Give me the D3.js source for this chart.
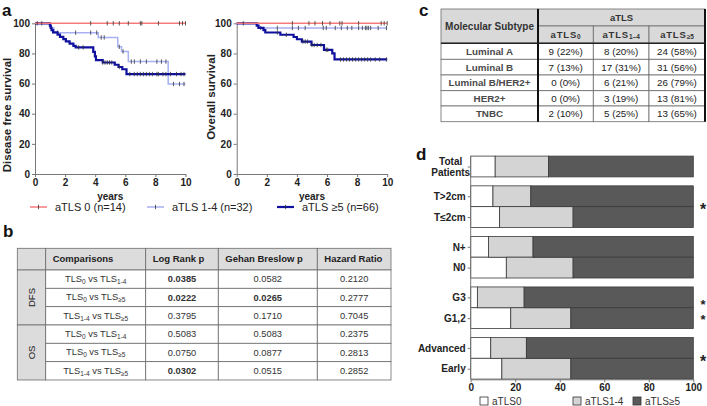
<!DOCTYPE html>
<html><head><meta charset="utf-8">
<script src="https://cdn.jsdelivr.net/npm/d3@7"></script>
<style>body{margin:0;background:#fff}svg{display:block;font-family:"Liberation Sans",Arial,sans-serif}</style>
</head><body><svg id="chart" width="707" height="406"></svg>
<script>
// ---------- Panel a data ----------
const yearTicks = [0, 2, 4, 6, 8, 10];
const survTicks = [0, 20, 40, 60, 80, 100];
const seriesNames = ["aTLS 0 (n=14)", "aTLS 1-4 (n=32)", "aTLS \u22655 (n=66)"];
const seriesColors = ["#f57b7b", "#a7b0f2", "#10109e"];

const dfs0Steps = [[0,100],[10,100]];
const dfs0Censor = [0.15,0.45,3.7,4.8,5.2,5.6,6.2,7.0,7.1,8.2,9.6,9.8,10];
const dfs14Steps = [[0,100],[1.0,96.9],[1.26,93.8],[4.2,90.6],[5.5,84.4],[5.75,81.3],[6.2,74.6],[8.85,59.7],[10,59.7]];
const dfs14Censor = [1.5,2.7,3.7,4.1,4.4,4.6,5.6,5.85,6.4,6.6,7.0,7.4,8.1,8.4,8.7,9.2,9.6,9.9];
const dfs5Steps = [[0,100],[0.99,98.5],[1.05,97],[1.1,95.5],[1.2,94],[1.5,92.5],[1.66,91],[1.88,89.5],[2.05,88],[2.3,86.5],[2.55,85],[2.7,84],[3.87,81],[3.98,78],[4.05,75.5],[4.5,74],[5.3,72.5],[5.55,71],[5.8,69.5],[6.08,66.3],[10,66.3]];
const dfs5Censor = [2.9,3.2,4.5,4.65,4.8,4.95,5.1,5.6,6.3,6.6,6.8,7.0,7.2,7.4,7.6,7.8,8.1,8.2,8.5,8.7,9.0,9.4,9.7,9.9];

const os0Steps = [[0,100],[10,100]];
const os0Censor = [0.44,3.7,4.8,5.2,5.7,6.2,6.85,7.0,8.1,9.6,9.8,10];
const os14Steps = [[0,100],[1.4,96.9],[10,96.9]];
const os14Censor = [1.6,2.7,3.7,4.1,4.55,5.75,5.95,6.55,6.95,7.35,7.65,8.1,8.35,8.55,8.65,8.75,8.9,9.4,9.95];
const os5Steps = [[0,100],[1.33,98.5],[1.45,97],[1.78,95.5],[1.9,93.9],[2.9,92.4],[3.78,90.9],[4.0,89.4],[4.33,87.9],[4.97,85.6],[5.8,82.4],[6.35,80],[6.5,76],[10,76]];
const os5Censor = [2.7,3.3,4.4,4.55,4.7,5.0,5.15,5.35,5.6,5.95,6.05,6.9,7.1,7.3,7.5,7.7,7.9,8.1,8.3,8.5,8.7,8.9,9.2,9.5,9.95];

// ---------- Panel b data ----------
const bComparisons = [["0","1-4"],["0","\u22655"],["1-4","\u22655"],["0","1-4"],["0","\u22655"],["1-4","\u22655"]];
const bEndpoints = ["DFS","OS"];
const bLogRank = ["0.0385","0.0222","0.3795","0.5083","0.0750","0.0302"];
const bGehan   = ["0.0582","0.0265","0.1710","0.5083","0.0877","0.0515"];
const bHazard  = ["0.2120","0.2777","0.7045","0.2375","0.2813","0.2852"];
const bHeaders = ["Comparisons","Log Rank p","Gehan Breslow p","Hazard Ratio"];

// ---------- Panel c data ----------
const cSubtypes = ["Luminal A","Luminal B","Luminal B/HER2+","HER2+","TNBC"];
const cTLS0  = ["9 (22%)","7 (13%)","0 (0%)","0 (0%)","2 (10%)"];
const cTLS14 = ["8 (20%)","17 (31%)","6 (21%)","3 (19%)","5 (25%)"];
const cTLS5  = ["24 (58%)","31 (56%)","26 (79%)","13 (81%)","13 (65%)"];

// ---------- Panel d data ----------
const dCategories = ["Total Patients","T>2cm","T\u22642cm","N+","N0","G3","G1,2","Advanced","Early"];
const dGroups = [0,1,1,2,2,3,3,4,4];
const dTLS0  = [11,10,13,8,16,3,18,9,14];
const dTLS14 = [24,17,33,20,30,21,27,16,31];
const dTLS5  = [65,73,54,72,54,76,55,75,55];
const dLegend = ["aTLS0","aTLS1-4","aTLS\u22655"];
const dColors = ["#ffffff","#d4d4d4","#595959"];
// asterisk anchor: between two bars, or on the lower / upper part of a single bar
const dStars = [["T>2cm","T\u22642cm"],["G3"],["G1,2"],["Advanced","Early"]];
const xPctTicks = [0,20,40,60,80,100];

// =====================================================
const svg = d3.select("#chart");
const FONT = '"Liberation Sans",Arial,sans-serif';

function panelLabel(t, x, y){
  svg.append("text").attr("x",x).attr("y",y).attr("font-size",17).attr("font-weight","bold").attr("fill","#111").text(t);
}
panelLabel("a",2,15.5); panelLabel("b",3,237); panelLabel("c",419,15.5); panelLabel("d",416,160);

function survAt(steps,t){let s=steps[0][1];for(const p of steps){if(p[0]<=t)s=p[1];}return s;}

function styleAxis(g){
  g.selectAll("path,line").attr("stroke","#777").attr("stroke-width",1);
  g.selectAll("text").attr("font-family",FONT).attr("font-size",10).attr("font-weight","bold").attr("fill","#222");
}

function drawKM(left, title, titleX, titleCY, series){
  const x = d3.scaleLinear().domain([0,10]).range([left, left+150.5]);
  const y = d3.scaleLinear().domain([0,100]).range([174,23.3]);
  const g = svg.append("g");
  const ax = g.append("g").attr("transform","translate(0,174)")
    .call(d3.axisBottom(x).tickValues(yearTicks).tickSize(3).tickSizeOuter(0).tickPadding(2));
  styleAxis(ax);
  const ay = g.append("g").attr("transform",`translate(${left},0)`)
    .call(d3.axisLeft(y).tickValues(survTicks).tickSize(3).tickSizeOuter(0).tickPadding(2));
  styleAxis(ay);
  g.append("text").attr("transform",`translate(${titleX},${titleCY}) rotate(-90)`)
    .attr("text-anchor","middle").attr("font-size",11.5).attr("font-weight","bold").attr("fill","#222").text(title);
  g.append("text").attr("x",(x(0)+x(10))/2).attr("y",200).attr("text-anchor","middle")
    .attr("font-size",10).attr("font-weight","bold").attr("fill","#222").text("years");
  const line = d3.line().x(d=>x(d[0])).y(d=>y(d[1])).curve(d3.curveStepAfter);
  const order = [1,2,0];
  order.forEach(i=>{
    const s = series[i];
    g.append("path").attr("d",line(s.steps)).attr("fill","none")
      .attr("stroke",seriesColors[i]).attr("stroke-width", i===2?2.2:1.5);
    g.selectAll(null).data(s.censor).enter().append("line")
      .attr("x1",d=>x(d)).attr("x2",d=>x(d))
      .attr("y1",d=>y(survAt(s.steps,d))-2.2).attr("y2",d=>y(survAt(s.steps,d))+2.2)
      .attr("stroke","#333").attr("stroke-width",0.8);
  });
}
drawKM(35,"Disease free survival",11,115,[
  {steps:dfs0Steps,censor:dfs0Censor},{steps:dfs14Steps,censor:dfs14Censor},{steps:dfs5Steps,censor:dfs5Censor}]);
drawKM(236.7,"Overall survival",215,97,[
  {steps:os0Steps,censor:os0Censor},{steps:os14Steps,censor:os14Censor},{steps:os5Steps,censor:os5Censor}]);

// legend a
const legX = [30,147,277];
seriesNames.forEach((n,i)=>{
  const lg = svg.append("g");
  lg.append("line").attr("x1",legX[i]).attr("x2",legX[i]+17).attr("y1",207).attr("y2",207)
    .attr("stroke",seriesColors[i]).attr("stroke-width",i===2?2.2:1.5);
  lg.append("line").attr("x1",legX[i]+8.5).attr("x2",legX[i]+8.5).attr("y1",204.8).attr("y2",209.2)
    .attr("stroke","#333").attr("stroke-width",0.8);
  lg.append("text").attr("x",legX[i]+25).attr("y",211).attr("font-size",11).attr("fill","#222").text(n);
});

// ---------- Panel b table ----------
(function(){
  const colX = [17.3,45.7,145.7,218.3,317.3,391];
  const top = 248.3, headH = 21.7, rowH = 18.33;
  const g = svg.append("g");
  const border = "#6b6b6b";
  for(let c=0;c<5;c++){
    g.append("rect").attr("x",colX[c]).attr("y",top).attr("width",colX[c+1]-colX[c]).attr("height",headH)
      .attr("fill","#dcdcdc").attr("stroke",border).attr("stroke-width",0.8);
  }
  bHeaders.forEach((h,i)=>{
    g.append("text").attr("x",colX[i+1]+7).attr("y",top+headH/2).attr("dy","0.35em")
      .attr("font-size",9.5).attr("font-weight","bold").attr("fill","#222").text(h);
  });
  const bodyTop = top+headH;
  bEndpoints.forEach((e,i)=>{
    const y0 = bodyTop + i*3*rowH;
    g.append("rect").attr("x",colX[0]).attr("y",y0).attr("width",colX[1]-colX[0]).attr("height",3*rowH)
      .attr("fill","#dcdcdc").attr("stroke",border).attr("stroke-width",0.8);
    g.append("text").attr("transform",`translate(${(colX[0]+colX[1])/2},${y0+1.5*rowH}) rotate(-90)`)
      .attr("text-anchor","middle").attr("dy","0.35em").attr("font-size",9.5).attr("fill","#222").text(e);
  });
  const cols = [null,bLogRank,bGehan,bHazard];
  bComparisons.forEach((cmp,r)=>{
    const y0 = bodyTop + r*rowH;
    for(let c=1;c<5;c++){
      g.append("rect").attr("x",colX[c]).attr("y",y0).attr("width",colX[c+1]-colX[c]).attr("height",rowH)
        .attr("fill","#fff").attr("stroke",border).attr("stroke-width",0.8);
    }
    const t = g.append("text").attr("x",(colX[1]+colX[2])/2).attr("y",y0+rowH/2+3)
      .attr("text-anchor","middle").attr("font-size",9.3).attr("fill","#333");
    t.append("tspan").text("TLS");
    t.append("tspan").attr("font-size",6.5).attr("dy",2).text(cmp[0]);
    t.append("tspan").attr("dy",-2).text(" vs TLS");
    t.append("tspan").attr("font-size",6.5).attr("dy",2).text(cmp[1]);
    for(let c=1;c<4;c++){
      const v = cols[c][r];
      g.append("text").attr("x",(colX[c+1]+colX[c+2])/2).attr("y",y0+rowH/2).attr("dy","0.35em")
        .attr("text-anchor","middle").attr("font-size",9.3)
        .attr("font-weight", (c<3 && +v<0.05)?"bold":"normal").attr("fill","#333").text(v);
    }
  });
})();

// ---------- Panel c table ----------
(function(){
  const colX = [441,538,593.3,649,705];
  const rowY = [9,26,43.3,59.3,75,90.7,106,121.7];
  const g = svg.append("g");
  const border = "#6b6b6b";
  const fillH = "#d9d9d9";
  g.append("rect").attr("x",colX[0]).attr("y",rowY[0]).attr("width",colX[1]-colX[0]).attr("height",rowY[2]-rowY[0])
    .attr("fill",fillH).attr("stroke",border).attr("stroke-width",0.8);
  g.append("rect").attr("x",colX[1]).attr("y",rowY[0]).attr("width",colX[4]-colX[1]).attr("height",rowY[1]-rowY[0])
    .attr("fill",fillH).attr("stroke",border).attr("stroke-width",0.8);
  for(let c=1;c<4;c++){
    g.append("rect").attr("x",colX[c]).attr("y",rowY[1]).attr("width",colX[c+1]-colX[c]).attr("height",rowY[2]-rowY[1])
      .attr("fill",fillH).attr("stroke",border).attr("stroke-width",0.8);
  }
  g.append("text").attr("x",(colX[0]+colX[1])/2).attr("y",(rowY[0]+rowY[2])/2).attr("dy","0.35em")
    .attr("text-anchor","middle").attr("font-size",10).attr("font-weight","bold").attr("fill","#333").text("Molecular Subtype");
  g.append("text").attr("x",(colX[1]+colX[4])/2).attr("y",(rowY[0]+rowY[1])/2).attr("dy","0.35em")
    .attr("text-anchor","middle").attr("font-size",9.5).attr("font-weight","bold").attr("fill","#333").text("aTLS");
  const subs = ["0","1\u20134","\u22655"];
  subs.forEach((s,i)=>{
    const t = g.append("text").attr("x",(colX[i+1]+colX[i+2])/2).attr("y",(rowY[1]+rowY[2])/2+3)
      .attr("text-anchor","middle").attr("font-size",9.5).attr("font-weight","bold").attr("fill","#333");
    t.append("tspan").attr("letter-spacing",0.8).text("aTLS");
    t.append("tspan").attr("font-size",6.5).attr("dy",1.5).text(s);
  });
  const cols = [cSubtypes,cTLS0,cTLS14,cTLS5];
  cSubtypes.forEach((st,r)=>{
    for(let c=0;c<4;c++){
      g.append("rect").attr("x",colX[c]).attr("y",rowY[r+2]).attr("width",colX[c+1]-colX[c]).attr("height",rowY[r+3]-rowY[r+2])
        .attr("fill","#fff").attr("stroke",border).attr("stroke-width",0.8);
      g.append("text").attr("x",(colX[c]+colX[c+1])/2).attr("y",(rowY[r+2]+rowY[r+3])/2).attr("dy","0.35em")
        .attr("text-anchor","middle").attr("font-size",9.8).attr("font-weight",c===0?"bold":"normal")
        .attr("fill",c===0?"#4a4a4a":"#222").text(cols[c][r]);
    }
  });
  g.append("line").attr("x1",colX[1]).attr("x2",colX[1]).attr("y1",rowY[0]).attr("y2",rowY[7]).attr("stroke","#111").attr("stroke-width",2);
  g.append("line").attr("x1",colX[4]).attr("x2",colX[4]).attr("y1",rowY[0]).attr("y2",rowY[7]).attr("stroke","#111").attr("stroke-width",2);
  g.append("line").attr("x1",colX[0]).attr("x2",colX[4]).attr("y1",rowY[2]).attr("y2",rowY[2]).attr("stroke","#222").attr("stroke-width",1.4);
})();

// ---------- Panel d stacked bars ----------
(function(){
  const x = d3.scaleLinear().domain([0,100]).range([470.7,693.3]);
  const slot = dCategories.map((c,i)=> i + dGroups[i]*0.43);
  const ypos = d3.scaleLinear().domain([0, slot[slot.length-1]]).range([166.5,368.7]);
  const yc = c => ypos(slot[dCategories.indexOf(c)]);
  const bh = 20.8;
  const rows = dCategories.map((c,i)=>({cat:c, a:dTLS0[i], b:dTLS14[i], c5:dTLS5[i]}));
  const stack = d3.stack().keys(["a","b","c5"])(rows);
  const g = svg.append("g");
  stack.forEach((layer,k)=>{
    g.selectAll(null).data(layer).enter().append("rect")
      .attr("x",d=>x(d[0])).attr("width",d=>x(d[1])-x(d[0]))
      .attr("y",d=>yc(d.data.cat)-bh/2).attr("height",bh)
      .attr("fill",dColors[k]).attr("stroke","#3a3a3a").attr("stroke-width",0.8);
  });
  const ax = g.append("g").attr("transform","translate(0,379.3)")
    .call(d3.axisBottom(x).tickValues(xPctTicks).tickSize(3).tickSizeOuter(0).tickPadding(2));
  styleAxis(ax);
  const yscale = d3.scaleOrdinal().domain(dCategories).range(dCategories.map(yc));
  const ay = g.append("g").attr("transform",`translate(${x(0)},0)`)
    .call(d3.axisLeft(yscale).tickSize(3).tickSizeOuter(0).tickPadding(2));
  ay.select(".domain").attr("d",`M0,${yc(dCategories[0])-bh/2}V379.3`);
  styleAxis(ay);
  ay.selectAll(".tick text").each(function(d){
    if(d.indexOf(" ")>0){
      const parts = d.split(" ");
      const t = d3.select(this).text(null).attr("text-anchor","middle").attr("x",-20).attr("dy",null);
      t.append("tspan").attr("x",-20).attr("dy","-0.2em").text(parts[0]);
      t.append("tspan").attr("x",-20).attr("dy","1.1em").text(parts[1]);
    }
  });
  // asterisks
  dStars.forEach(grp=>{
    let cy = d3.mean(grp, c=>yc(c));
    if(grp.length===1) cy += (grp[0]==="G3" ? 4.3 : -1);
    const fs = grp.length===1 ? 13 : 16;
    g.append("text").attr("x",703).attr("y",cy+fs*0.55).attr("text-anchor","middle")
      .attr("font-size",fs).attr("font-weight","bold").attr("fill","#222").text("*");
  });
  // legend
  const lx = [480,573,633];
  dLegend.forEach((n,i)=>{
    g.append("rect").attr("x",lx[i]).attr("y",397).attr("width",8).attr("height",8)
      .attr("fill",dColors[i]).attr("stroke","#333").attr("stroke-width",0.8);
    g.append("text").attr("x",lx[i]+12).attr("y",404.5).attr("font-size",10).attr("fill","#333").text(n);
  });
})();
</script></body></html>
